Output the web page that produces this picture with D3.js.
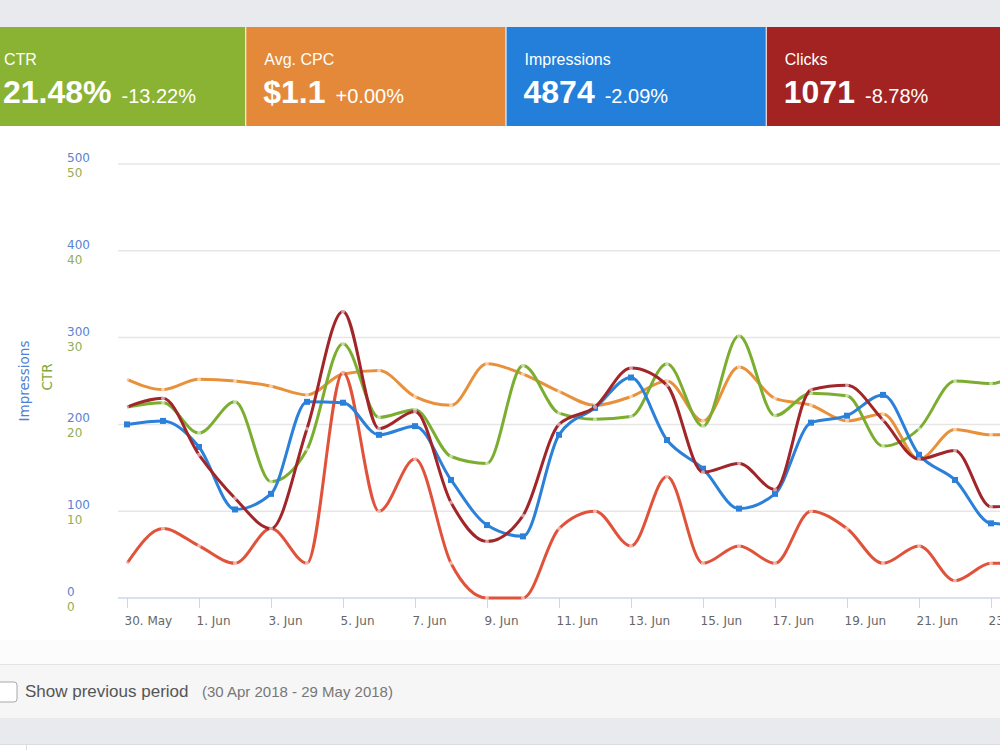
<!DOCTYPE html>
<meta charset="utf-8">
<script src="https://d3js.org/d3.v7.min.js"></script>
<style>
  body { margin: 0; overflow: hidden; background: #fff; }
  svg { display: block; }
</style>
<body>
<div id="my_dataviz"></div>
<script>
// summary cards
var cardTitles = ["CTR", "Avg. CPC", "Impressions", "Clicks"];
var cardValues = ["21.48%", "$1.1", "4874", "1071"];
var cardChanges = ["-13.22%", "+0.00%", "-2.09%", "-8.78%"];
var cardColors = ["#8ab333", "#e4893a", "#237fd9", "#a32323"];

// daily data, 30 May - 24 Jun 2018
var days = ["2018-05-30","2018-05-31","2018-06-01","2018-06-02","2018-06-03","2018-06-04","2018-06-05",
  "2018-06-06","2018-06-07","2018-06-08","2018-06-09","2018-06-10","2018-06-11","2018-06-12","2018-06-13",
  "2018-06-14","2018-06-15","2018-06-16","2018-06-17","2018-06-18","2018-06-19","2018-06-20","2018-06-21",
  "2018-06-22","2018-06-23","2018-06-24"];
var impressions = [200,204,174,102,120,226,225,188,198,136,84,71,188,219,254,182,149,103,120,202,210,234,165,136,86,84];
var ctr = [22.0,22.5,19.0,22.6,13.4,17.1,29.3,20.8,21.7,16.3,15.5,26.8,21.3,20.6,20.9,27.0,19.8,30.2,21.0,23.6,23.3,17.5,19.5,25.0,24.7,27.0];
var avgCpc = [1.26,1.20,1.26,1.25,1.22,1.17,1.29,1.31,1.16,1.11,1.35,1.29,1.19,1.11,1.16,1.25,1.02,1.33,1.15,1.11,1.02,1.06,0.80,0.97,0.94,0.94];
var clicks = [44,46,33,23,16,39,66,39,43,22,13,19,40,44,53,49,29,31,25,48,49,41,32,34,21,22];
var conversions = [2,4,3,2,4,2,13,5,8,2,0,0,4,5,3,7,2,3,2,5,4,2,3,1,2,2];

var impTicks = [0, 100, 200, 300, 400, 500];
var ctrTicks = [0, 10, 20, 30, 40, 50];

var width = 1000, height = 750;
var svg = d3.select("#my_dataviz").append("svg")
    .attr("width", width).attr("height", height)
    .style("font-family", "'Liberation Sans', Arial, sans-serif");

// top strip
svg.append("rect").attr("x", 0).attr("y", 0).attr("width", width).attr("height", 27).attr("fill", "#e9eaee");

// cards
var cardX = d3.scaleBand().domain(d3.range(cardTitles.length)).range([-14, 1026]).paddingInner(0.004);
var cards = svg.selectAll(".card").data(cardTitles).enter().append("g")
    .attr("class", "card")
    .attr("transform", function(d, i) { return "translate(" + cardX(i) + ",27)"; });
cards.append("rect")
    .attr("width", cardX.bandwidth()).attr("height", 99)
    .attr("fill", function(d, i) { return cardColors[i]; });
cards.append("text")
    .attr("x", 18).attr("y", 38)
    .attr("fill", "#fff").style("font-size", "16px")
    .text(function(d) { return d; });
cards.append("text")
    .attr("class", "big")
    .attr("x", 17).attr("y", 76)
    .attr("fill", "#fff").style("font-size", "32px").style("font-weight", "bold")
    .text(function(d, i) { return cardValues[i]; });
cards.each(function(d, i) {
  var g = d3.select(this);
  var w = g.select(".big").node().getComputedTextLength();
  g.append("text")
    .attr("x", 17 + w + 10).attr("y", 76)
    .attr("fill", "#fff").style("font-size", "20px")
    .text(cardChanges[i]);
});

// chart scales
var parse = d3.timeParse("%Y-%m-%d");
var dates = days.map(parse);
var x = d3.scaleTime().domain([dates[0], dates[24]]).range([127, 991]);
var yImp = d3.scaleLinear().domain([0, 500]).range([598, 164]);
var yCtr = d3.scaleLinear().domain([0, 50]).range([598, 164]);
var yCpc = d3.scaleLinear().domain([0, 2.5]).range([598, 164]);
var yClicks = d3.scaleLinear().domain([0, 100]).range([598, 164]);
var yConv = d3.scaleLinear().domain([0, 25]).range([598, 164]);

// gridlines
svg.append("g").selectAll("line").data(impTicks.slice(1)).enter().append("line")
    .attr("x1", 118).attr("x2", width)
    .attr("y1", function(d) { return yImp(d); }).attr("y2", function(d) { return yImp(d); })
    .attr("stroke", "#e6e6e6").attr("stroke-width", 1.5);

// y labels
svg.append("g").selectAll("text").data(impTicks).enter().append("text")
    .attr("x", 67).attr("y", function(d) { return yImp(d) - 2; })
    .attr("fill", "#5a83cf").style("font-family", "'DejaVu Sans', sans-serif").style("font-size", "12px")
    .text(function(d) { return d; });
svg.append("g").selectAll("text").data(ctrTicks).enter().append("text")
    .attr("x", 67).attr("y", function(d) { return yCtr(d) + 13; })
    .attr("fill", "#94ad55").style("font-family", "'DejaVu Sans', sans-serif").style("font-size", "12px")
    .text(function(d) { return d; });
svg.append("text")
    .attr("transform", "translate(29,381)rotate(-90)")
    .attr("text-anchor", "middle").attr("fill", "#4f7fd6")
    .style("font-family", "'DejaVu Sans', sans-serif").style("font-size", "13.5px")
    .text("Impressions");
svg.append("text")
    .attr("transform", "translate(52,377)rotate(-90)")
    .attr("text-anchor", "middle").attr("fill", "#7fa93a")
    .style("font-family", "'DejaVu Sans', sans-serif").style("font-size", "13.5px")
    .text("CTR");

// x axis
var tickDates = dates.filter(function(d, i) { return i % 2 == 0; });
var xAxis = svg.append("g")
    .attr("transform", "translate(0,598)")
    .call(d3.axisBottom(x).tickValues(tickDates).tickFormat(d3.timeFormat("%-d. %b")).tickSize(10).tickSizeOuter(0));
xAxis.select(".domain").attr("d", "M118,0H" + width).attr("stroke", "#ccd6eb").attr("stroke-width", 1.5);
xAxis.selectAll(".tick line").attr("stroke", "#ccd6eb");
xAxis.selectAll(".tick text")
    .attr("text-anchor", "start").attr("x", -3).attr("y", 18)
    .attr("fill", "#666").style("font-family", "'DejaVu Sans', sans-serif").style("font-size", "12px");

// lines
var series = [
  {values: avgCpc, y: yCpc, color: "#e8913a", marker: "circle"},
  {values: ctr, y: yCtr, color: "#7bae30", marker: "circle"},
  {values: conversions, y: yConv, color: "#e0533a", marker: "circle"},
  {values: impressions, y: yImp, color: "#2b80d9", marker: "square"},
  {values: clicks, y: yClicks, color: "#a1262a", marker: "circle"}
];
series.forEach(function(s) {
  var line = d3.line()
      .x(function(d, i) { return x(dates[i]); })
      .y(function(d) { return s.y(d); })
      .curve(d3.curveMonotoneX);
  svg.append("path")
      .datum(s.values)
      .attr("d", line)
      .attr("fill", "none")
      .attr("stroke", s.color)
      .attr("stroke-width", 3);
  if (s.marker == "square") {
    svg.append("g").selectAll("rect").data(s.values).enter().append("rect")
        .attr("x", function(d, i) { return x(dates[i]) - 3; })
        .attr("y", function(d) { return s.y(d) - 3; })
        .attr("width", 6).attr("height", 6)
        .attr("fill", s.color);
  } else {
    svg.append("g").selectAll("circle").data(s.values).enter().append("circle")
        .attr("cx", function(d, i) { return x(dates[i]); })
        .attr("cy", function(d) { return s.y(d); })
        .attr("r", 2)
        .attr("fill", "#fff").attr("fill-opacity", 0.55);
  }
});

// bottom bar
svg.append("rect").attr("x", 0).attr("y", 640).attr("width", width).attr("height", 24).attr("fill", "#fcfcfc");
svg.append("rect").attr("x", 0).attr("y", 664).attr("width", width).attr("height", 54).attr("fill", "#f6f6f6");
svg.append("line").attr("x1", 0).attr("x2", width).attr("y1", 664.5).attr("y2", 664.5).attr("stroke", "#e4e4e4");
svg.append("rect").attr("x", 0).attr("y", 718).attr("width", width).attr("height", 26).attr("fill", "#e9eaed");
svg.append("line").attr("x1", 0).attr("x2", width).attr("y1", 744.5).attr("y2", 744.5).attr("stroke", "#dcdcdf");
svg.append("line").attr("x1", 26.5).attr("x2", 26.5).attr("y1", 745).attr("y2", 750).attr("stroke", "#dcdcdf");
svg.append("rect").attr("x", -3).attr("y", 682).attr("width", 20).attr("height", 20).attr("rx", 3)
    .attr("fill", "#fff").attr("stroke", "#a9a9a9");
svg.append("text").attr("x", 25).attr("y", 697)
    .attr("fill", "#555").style("font-size", "17px")
    .text("Show previous period");
svg.append("text").attr("x", 202).attr("y", 697)
    .attr("fill", "#777").style("font-size", "15px")
    .text("(30 Apr 2018 - 29 May 2018)");
</script>
</body>
